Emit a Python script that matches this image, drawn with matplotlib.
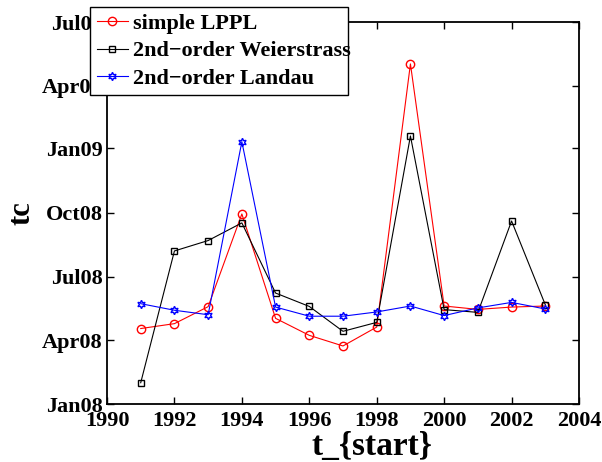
import matplotlib
matplotlib.use("Agg")
import matplotlib.pyplot as plt
import matplotlib.dates as mdates
from matplotlib.patches import Rectangle
from datetime import datetime
import numpy as np

plt.rcParams['font.family'] = ['Liberation Serif', 'DejaVu Serif']
plt.rcParams['font.weight'] = 'bold'

years = [1991, 1992, 1993, 1994, 1995, 1996, 1997, 1998, 1999, 2000, 2001, 2002, 2003]
# tc expressed as months after 1 Jan 2008
lppl_months = [3.55, 3.78, 4.58, 8.94, 4.03, 3.23, 2.73, 3.62, 16.0, 4.61, 4.45, 4.56, 4.61]
weier_months = [1.0, 7.2, 7.69, 8.52, 5.22, 4.59, 3.42, 3.84, 12.61, 4.44, 4.31, 8.61, 4.67]
landau_months = [4.72, 4.41, 4.2, 12.34, 4.56, 4.13, 4.13, 4.33, 4.61, 4.16, 4.52, 4.78, 4.47]

labels = ['simple LPPL', '2nd\u2212order Weierstrass', '2nd\u2212order Landau']

base = mdates.date2num(datetime(2008, 1, 1))
def to_date(m):
    return base + np.array(m) * 30.4375

W, H = 602, 462
fig = plt.figure(figsize=(6.02, 4.62), dpi=100)
ax = fig.add_axes([107 / W, 1 - 404 / H, 472 / W, 382 / H])

l1, = ax.plot(years, to_date(lppl_months), color='red', marker='o', mfc='none',
              mec='red', ms=6, lw=0.8)
l2, = ax.plot(years, to_date(weier_months), color='black', marker='s', mfc='none',
              mec='black', ms=4.5, lw=0.8)
l3, = ax.plot(years, to_date(landau_months), color='blue', marker=(6, 1, 0), mfc='none',
              mec='blue', ms=6, lw=0.8, mew=1.0)

ax.set_xlim(1990, 2004)
ax.set_xticks(range(1990, 2005, 2))
ax.set_ylim(mdates.date2num(datetime(2008, 1, 1)), mdates.date2num(datetime(2009, 7, 1)))
ax.yaxis.set_major_locator(mdates.MonthLocator(bymonth=[1, 4, 7, 10]))
ax.yaxis.set_major_formatter(mdates.DateFormatter('%b%y'))

ax.tick_params(direction='in', top=True, right=True, labelsize=16, width=1, length=5)
ax.tick_params(axis='x', pad=5)
ax.tick_params(axis='y', pad=3)
for lab in ax.get_xticklabels() + ax.get_yticklabels():
    lab.set_fontweight('bold')
for s in ax.spines.values():
    s.set_linewidth(1.3)

ax.set_xlabel('t_{start}', fontsize=24, fontweight='bold', labelpad=-2)
ax.xaxis.set_label_coords((372 - 107) / 472, -(447 - 404) / 382)
ax.xaxis.label.set_va('center')
ax.set_ylabel('tc', fontsize=22, fontweight='bold')
ax.yaxis.set_label_coords(-(107 - 22) / 472, 0.5)
ax.yaxis.label.set_va('center')

# legend box (MATLAB style, text slightly overflowing the frame)
fig.patches.append(Rectangle((90 / W, 1 - 95 / H), 258 / W, 88 / H,
                             transform=fig.transFigure, facecolor='white',
                             edgecolor='black', linewidth=1.0, zorder=4))
leg = fig.legend([l1, l2, l3], labels, loc='upper left',
                 bbox_to_anchor=(90 / W, 1 - 7 / H),
                 prop={'weight': 'bold', 'size': 16}, frameon=False,
                 borderpad=0.3, handlelength=1.4,
                 labelspacing=0.3, handletextpad=0.25, borderaxespad=0)
leg.set_zorder(5)

fig.savefig('out.png', dpi=100)
